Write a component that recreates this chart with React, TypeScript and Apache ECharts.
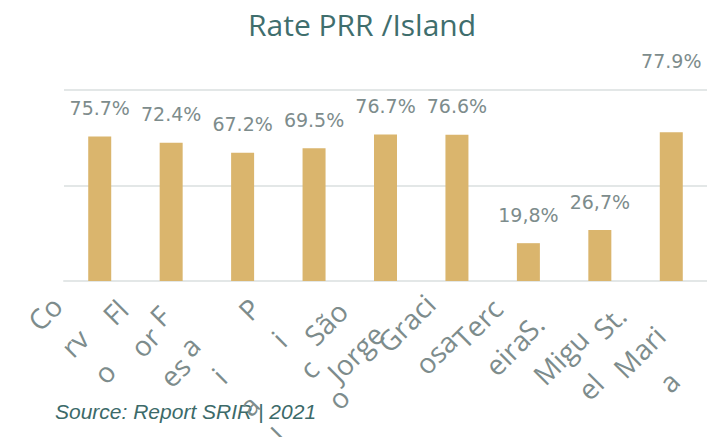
import React, { useEffect, useRef } from "react";
import * as echarts from "echarts";

const islands = ["Corvo", "Flores", "Faial", "Pico", "São Jorge", "Graciosa", "Terceira", "S. Miguel", "St. Maria"];
const islandLines = [
  ["Co", "rv", "o"],
  ["Fl", "or", "es"],
  ["F", "a", "i", "a", "l"],
  ["P", "i", "c", "o"],
  ["São", "Jorge"],
  ["Graci", "osa"],
  ["Terc", "eira"],
  ["S.", "Migu", "el"],
  ["St.", "Mari", "a"],
];
const rates = [75.7, 72.4, 67.2, 69.5, 76.7, 76.6, 19.8, 26.7, 77.9];
const rateLabels = ["75.7%", "72.4%", "67.2%", "69.5%", "76.7%", "76.6%", "19,8%", "26,7%", "77.9%"];
const yTicks = [0, 50, 100];

// layout only: centre of each rotated label's first line, relative to its tick on the axis
const labelOffsets = [
  [-55, 32],
  [-56, 31],
  [-83, 35],
  [-65, 28],
  [-60, 42],
  [-51, 42],
  [-51, 42],
  [-69, 46],
  [-62, 41],
];

const LABEL_LINE_HEIGHT = 42;
const LABEL_COLOR = "#7d8c8c";

export default function App() {
  const ref = useRef<HTMLDivElement>(null);
  useEffect(() => {
    document.body.style.margin = "0";
    if (!ref.current) return;
    const chart = echarts.init(ref.current, null, { renderer: "svg" });
    const sourceText = {
      type: "text",
      x: 55,
      y: 411,
      style: {
        text: "Source: Report SRIR | 2021",
        font: "italic 21px 'Liberation Sans'",
        fill: "#3c6a69",
        verticalAlign: "middle",
      },
    };
    chart.setOption({
      animation: false,
      title: {
        text: "Rate PRR /Island",
        left: 248,
        top: 9,
        padding: 0,
        textStyle: { fontFamily: "Open Sans", fontSize: 30, fontWeight: "normal", color: "#3f6e6d" },
      },
      graphic: [sourceText],
      grid: { left: 64, right: 0, top: 90, bottom: 156, containLabel: false, outerBoundsMode: "none" },
      xAxis: {
        type: "category",
        data: islands,
        axisTick: { show: false },
        axisLine: { lineStyle: { color: "#e3e7e7", width: 2 } },
        axisLabel: { show: false },
      },
      yAxis: {
        type: "value",
        min: yTicks[0],
        max: yTicks[yTicks.length - 1],
        interval: yTicks[1] - yTicks[0],
        axisLabel: { show: false },
        axisLine: { show: false },
        axisTick: { show: false },
        splitLine: { lineStyle: { color: "#e3e7e7", width: 2 } },
      },
      series: [
        {
          type: "bar",
          barWidth: 23,
          itemStyle: { color: "#dab56d" },
          data: rates.map((v, i) => ({
            value: v,
            label: i === rates.length - 1 ? { distance: 62 } : undefined,
          })),
          label: {
            show: true,
            position: "top",
            distance: 19,
            fontFamily: "DejaVu Sans",
            fontSize: 19,
            color: LABEL_COLOR,
            formatter: (p: any) => rateLabels[p.dataIndex],
          },
        },
      ],
    });

    // category labels, placed from the axis scale and rotated 45°
    const axisY = chart.convertToPixel({ yAxisIndex: 0 }, yTicks[0]) as number;
    const half = (LABEL_LINE_HEIGHT / 2) * Math.SQRT1_2;
    const catLabels = islands.map((name, i) => {
      const tx = chart.convertToPixel({ xAxisIndex: 0 }, name) as number;
      return {
        type: "text",
        x: tx + labelOffsets[i][0] - half,
        y: axisY + labelOffsets[i][1] - half,
        rotation: Math.PI / 4,
        style: {
          text: islandLines[i].join("\n"),
          fontFamily: "Open Sans",
          fontSize: 28,
          lineHeight: LABEL_LINE_HEIGHT,
          align: "center",
          verticalAlign: "top",
          fill: LABEL_COLOR,
        },
      };
    });
    chart.setOption({ graphic: [sourceText, ...catLabels] }, { replaceMerge: ["graphic"] });
    return () => chart.dispose();
  }, []);
  return <div ref={ref} style={{ width: 707, height: 437 }} />;
}
